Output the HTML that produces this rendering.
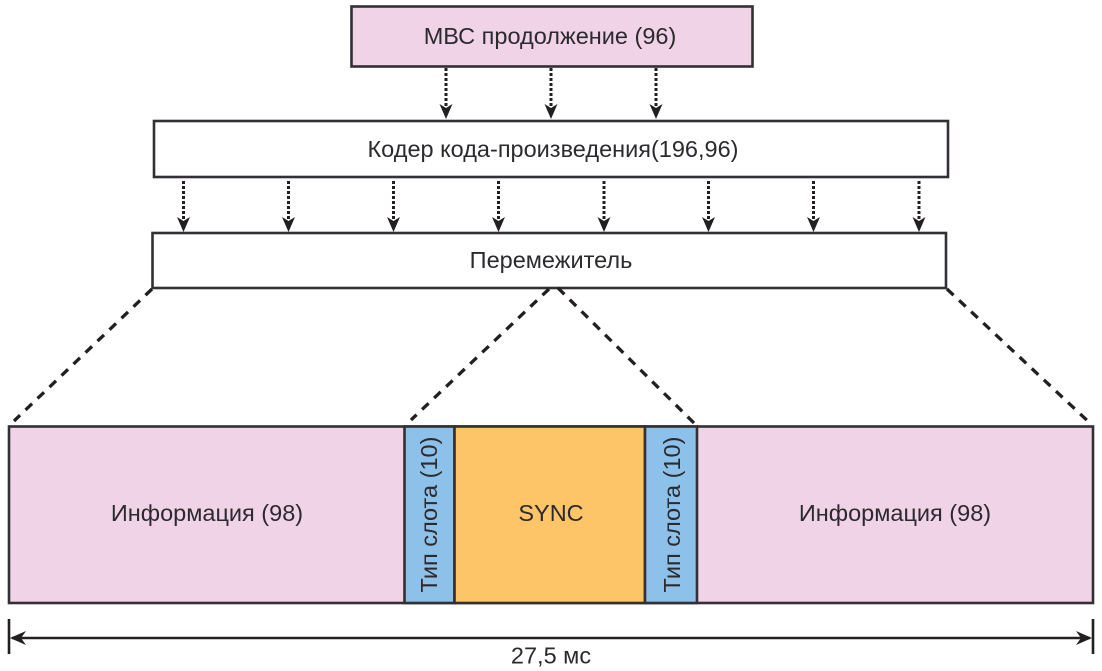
<!DOCTYPE html>
<html>
<head>
<meta charset="utf-8">
<style>
html,body{margin:0;padding:0;background:#fff;}
svg{display:block;}
text{font-family:"Liberation Sans",sans-serif;font-size:23.5px;fill:#2b2a2e;text-anchor:middle;}
</style>
</head>
<body>
<svg width="1102" height="671" viewBox="0 0 1102 671" xmlns="http://www.w3.org/2000/svg">
<defs>
<g id="a">
<line x1="0" y1="0" x2="0" y2="40" stroke="#231f20" stroke-width="3" stroke-dasharray="3 2"/>
<path d="M-6.5 36 L0 40 L6.5 36 L0 51 Z" fill="#231f20"/>
</g>
</defs>
<g stroke="#333035" stroke-width="2.6">
<rect x="351.5" y="6.5" width="401" height="60" fill="#f1d3e8"/>
<rect x="154" y="121" width="794" height="56" fill="#fff"/>
<rect x="152.5" y="233" width="793.5" height="55" fill="#fff"/>
<rect x="9" y="426.5" width="1084" height="176.5" fill="#f1d3e8"/>
<rect x="404.5" y="426.5" width="50" height="176.5" fill="#8dc1ea"/>
<rect x="454.5" y="426.5" width="190.5" height="176.5" fill="#fdc567"/>
<rect x="645" y="426.5" width="52" height="176.5" fill="#8dc1ea"/>
</g>
<use href="#a" x="446" y="68"/><use href="#a" x="551" y="68"/><use href="#a" x="656" y="68"/>
<use href="#a" x="183.5" y="181"/><use href="#a" x="288.5" y="181"/><use href="#a" x="393.5" y="181"/><use href="#a" x="498.5" y="181"/>
<use href="#a" x="604" y="181"/><use href="#a" x="708.5" y="181"/><use href="#a" x="813.5" y="181"/><use href="#a" x="919" y="181"/>
<g stroke="#231f20" stroke-width="3.3" stroke-dasharray="9 7.6" fill="none">
<line x1="152" y1="289" x2="14" y2="421"/>
<line x1="947" y1="289" x2="1092" y2="425"/>
<line x1="549" y1="289" x2="411" y2="420"/>
<line x1="558" y1="288" x2="696" y2="425"/>
</g>
<g stroke="#231f20" stroke-width="2.6">
<line x1="9" y1="619" x2="9" y2="654"/>
<line x1="1093" y1="619" x2="1093" y2="654"/>
<line x1="12" y1="638" x2="1090" y2="638"/>
</g>
<path d="M10 638 L26 631 L21 638 L26 645 Z" fill="#231f20"/>
<path d="M1092 638 L1076 631 L1081 638 L1076 645 Z" fill="#231f20"/>
<text x="550" y="44">МВС продолжение (96)</text>
<text x="553" y="157">Кодер кода-произведения(196,96)</text>
<text x="551" y="268">Перемежитель</text>
<text x="207" y="521">Информация (98)</text>
<text x="895" y="521">Информация (98)</text>
<text x="551" y="521">SYNC</text>
<text transform="translate(437,514.5) rotate(-90)">Тип слота (10)</text>
<text transform="translate(680,514.5) rotate(-90)">Тип слота (10)</text>
<text x="551" y="663.5">27,5 мс</text>
</svg>
</body>
</html>
